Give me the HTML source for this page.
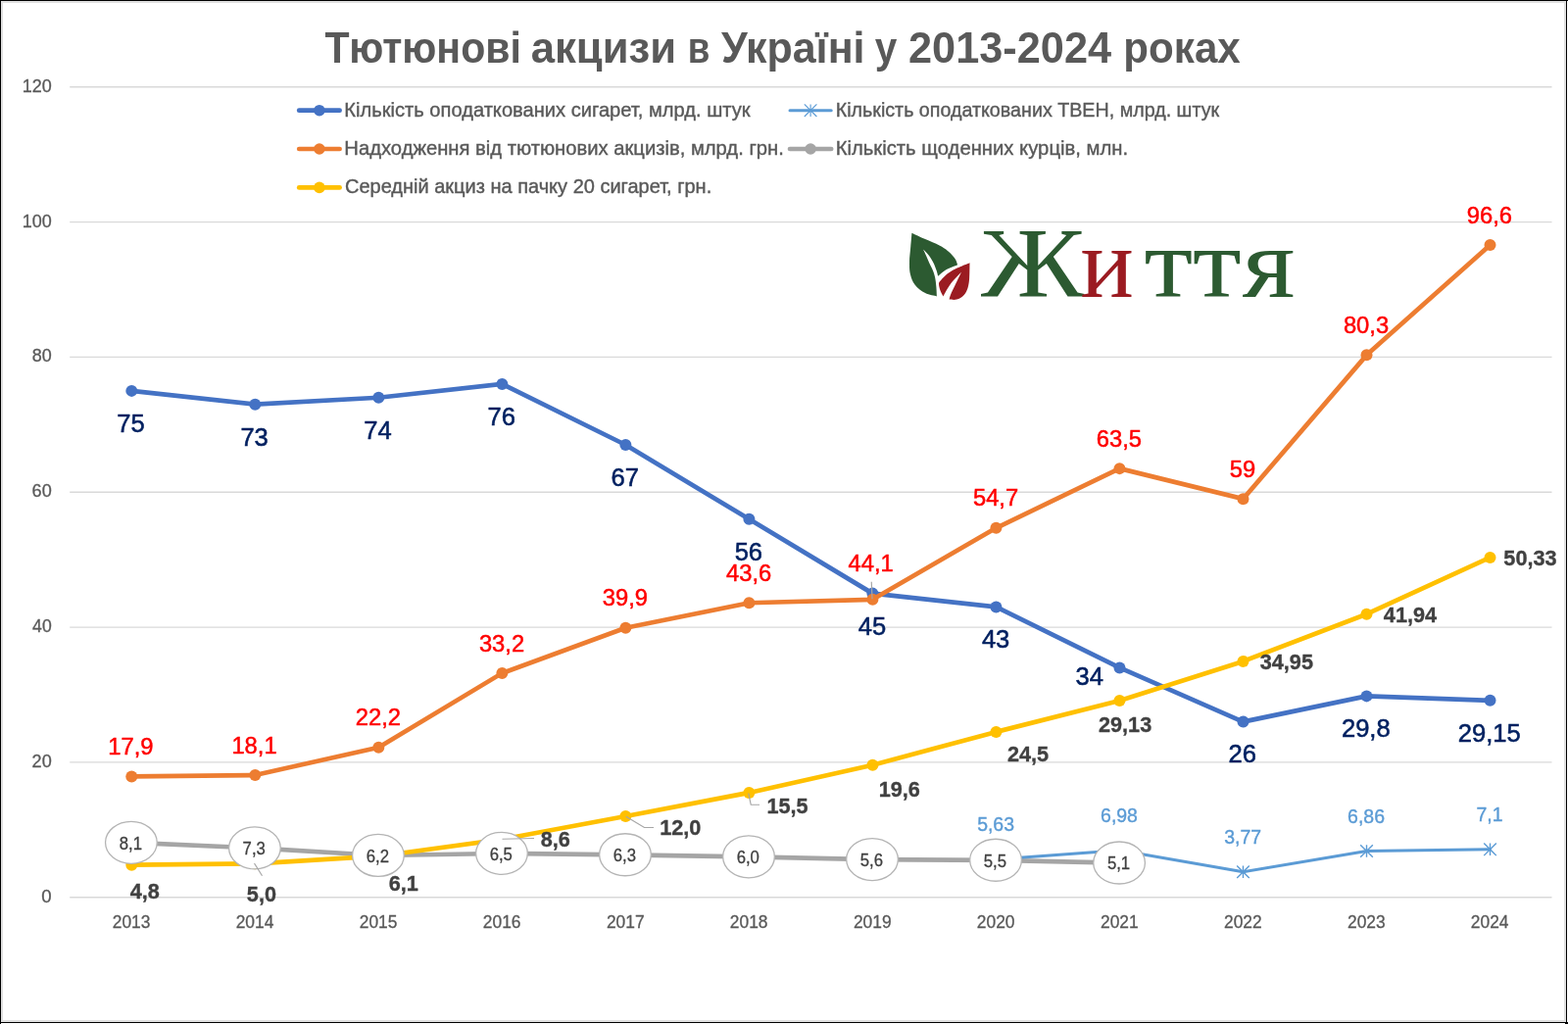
<!DOCTYPE html>
<html><head><meta charset="utf-8"><title>Chart</title>
<style>html,body{margin:0;padding:0;background:#fff;}body{width:1600px;height:1045px;overflow:hidden;font-family:"Liberation Sans",sans-serif;}svg{display:block;will-change:transform;}</style>
</head><body>
<svg width="1600" height="1045" viewBox="0 0 1600 1045" font-family="Liberation Sans, sans-serif">
<rect x="0" y="0" width="1600" height="1045" fill="#fff"/>
<line x1="71.2" x2="1583.5" y1="915.75" y2="915.75" stroke="#D9D9D9" stroke-width="1.3"/>
<line x1="71.2" x2="1583.5" y1="777.92" y2="777.92" stroke="#D9D9D9" stroke-width="1.3"/>
<line x1="71.2" x2="1583.5" y1="640.08" y2="640.08" stroke="#D9D9D9" stroke-width="1.3"/>
<line x1="71.2" x2="1583.5" y1="502.25" y2="502.25" stroke="#D9D9D9" stroke-width="1.3"/>
<line x1="71.2" x2="1583.5" y1="364.42" y2="364.42" stroke="#D9D9D9" stroke-width="1.3"/>
<line x1="71.2" x2="1583.5" y1="226.58" y2="226.58" stroke="#D9D9D9" stroke-width="1.3"/>
<line x1="71.2" x2="1583.5" y1="88.75" y2="88.75" stroke="#D9D9D9" stroke-width="1.3"/>
<text transform="translate(42.35,920.80) scale(1.0527,1)" font-size="17.71" fill="#595959" stroke="#595959" stroke-width="0.3">0</text>
<text transform="translate(32.60,782.97) scale(1.0218,1)" font-size="17.71" fill="#595959" stroke="#595959" stroke-width="0.3">20</text>
<text transform="translate(33.10,645.13) scale(0.9951,1)" font-size="17.71" fill="#595959" stroke="#595959" stroke-width="0.3">40</text>
<text transform="translate(32.60,507.30) scale(1.0218,1)" font-size="17.71" fill="#595959" stroke="#595959" stroke-width="0.3">60</text>
<text transform="translate(32.74,369.47) scale(1.0144,1)" font-size="17.71" fill="#595959" stroke="#595959" stroke-width="0.3">80</text>
<text transform="translate(22.65,231.63) scale(1.0170,1)" font-size="17.71" fill="#595959" stroke="#595959" stroke-width="0.3">100</text>
<text transform="translate(22.65,93.80) scale(1.0170,1)" font-size="17.71" fill="#595959" stroke="#595959" stroke-width="0.3">120</text>
<text transform="translate(114.76,946.85) scale(0.9780,1)" font-size="17.78" fill="#595959" stroke="#595959" stroke-width="0.3">2013</text>
<text transform="translate(240.65,946.85) scale(0.9780,1)" font-size="17.78" fill="#595959" stroke="#595959" stroke-width="0.3">2014</text>
<text transform="translate(366.78,946.85) scale(0.9780,1)" font-size="17.78" fill="#595959" stroke="#595959" stroke-width="0.3">2015</text>
<text transform="translate(492.82,946.85) scale(0.9780,1)" font-size="17.78" fill="#595959" stroke="#595959" stroke-width="0.3">2016</text>
<text transform="translate(618.91,946.85) scale(0.9780,1)" font-size="17.78" fill="#595959" stroke="#595959" stroke-width="0.3">2017</text>
<text transform="translate(744.86,946.85) scale(0.9780,1)" font-size="17.78" fill="#595959" stroke="#595959" stroke-width="0.3">2018</text>
<text transform="translate(870.91,946.85) scale(0.9780,1)" font-size="17.78" fill="#595959" stroke="#595959" stroke-width="0.3">2019</text>
<text transform="translate(996.86,946.85) scale(0.9780,1)" font-size="17.78" fill="#595959" stroke="#595959" stroke-width="0.3">2020</text>
<text transform="translate(1122.97,946.85) scale(0.9780,1)" font-size="17.78" fill="#595959" stroke="#595959" stroke-width="0.3">2021</text>
<text transform="translate(1249.01,946.85) scale(0.9780,1)" font-size="17.78" fill="#595959" stroke="#595959" stroke-width="0.3">2022</text>
<text transform="translate(1374.96,946.85) scale(0.9780,1)" font-size="17.78" fill="#595959" stroke="#595959" stroke-width="0.3">2023</text>
<text transform="translate(1500.85,946.85) scale(0.9780,1)" font-size="17.78" fill="#595959" stroke="#595959" stroke-width="0.3">2024</text>
<text transform="translate(331.59,64.00) scale(0.9166,1)" font-size="44.80" fill="#595959" font-weight="700">Тютюнові</text>
<text transform="translate(541.69,64.00) scale(0.9748,1)" font-size="44.80" fill="#595959" font-weight="700">акцизи</text>
<text transform="translate(701.82,64.00) scale(0.8221,1)" font-size="44.80" fill="#595959" font-weight="700">в</text>
<text transform="translate(736.00,64.00) scale(0.9583,1)" font-size="44.80" fill="#595959" font-weight="700">Україні</text>
<text transform="translate(892.70,64.00) scale(0.9052,1)" font-size="44.80" fill="#595959" font-weight="700">у</text>
<text transform="translate(927.03,64.00) scale(0.9666,1)" font-size="44.80" fill="#595959" font-weight="700">2013-2024</text>
<text transform="translate(1146.36,64.00) scale(0.9406,1)" font-size="44.80" fill="#595959" font-weight="700">роках</text>
<polyline points="134.30,398.88 260.32,412.66 386.34,405.77 512.36,391.98 638.38,454.01 764.40,529.82 890.42,605.62 1016.44,619.41 1142.46,681.43 1268.48,736.57 1394.50,710.38 1520.52,714.86" fill="none" stroke="#4472C4" stroke-width="4.7" stroke-linejoin="round" stroke-linecap="round"/>
<circle cx="134.30" cy="398.88" r="6" fill="#4472C4"/>
<circle cx="260.32" cy="412.66" r="6" fill="#4472C4"/>
<circle cx="386.34" cy="405.77" r="6" fill="#4472C4"/>
<circle cx="512.36" cy="391.98" r="6" fill="#4472C4"/>
<circle cx="638.38" cy="454.01" r="6" fill="#4472C4"/>
<circle cx="764.40" cy="529.82" r="6" fill="#4472C4"/>
<circle cx="890.42" cy="605.62" r="6" fill="#4472C4"/>
<circle cx="1016.44" cy="619.41" r="6" fill="#4472C4"/>
<circle cx="1142.46" cy="681.43" r="6" fill="#4472C4"/>
<circle cx="1268.48" cy="736.57" r="6" fill="#4472C4"/>
<circle cx="1394.50" cy="710.38" r="6" fill="#4472C4"/>
<circle cx="1520.52" cy="714.86" r="6" fill="#4472C4"/>
<polyline points="134.30,792.39 260.32,791.01 386.34,762.75 512.36,686.95 638.38,640.77 764.40,615.27 890.42,611.83 1016.44,538.78 1142.46,478.13 1268.48,509.14 1394.50,362.35 1520.52,250.02" fill="none" stroke="#ED7D31" stroke-width="4.7" stroke-linejoin="round" stroke-linecap="round"/>
<circle cx="134.30" cy="792.39" r="6" fill="#ED7D31"/>
<circle cx="260.32" cy="791.01" r="6" fill="#ED7D31"/>
<circle cx="386.34" cy="762.75" r="6" fill="#ED7D31"/>
<circle cx="512.36" cy="686.95" r="6" fill="#ED7D31"/>
<circle cx="638.38" cy="640.77" r="6" fill="#ED7D31"/>
<circle cx="764.40" cy="615.27" r="6" fill="#ED7D31"/>
<circle cx="890.42" cy="611.83" r="6" fill="#ED7D31"/>
<circle cx="1016.44" cy="538.78" r="6" fill="#ED7D31"/>
<circle cx="1142.46" cy="478.13" r="6" fill="#ED7D31"/>
<circle cx="1268.48" cy="509.14" r="6" fill="#ED7D31"/>
<circle cx="1394.50" cy="362.35" r="6" fill="#ED7D31"/>
<circle cx="1520.52" cy="250.02" r="6" fill="#ED7D31"/>
<polyline points="134.30,859.93 260.32,865.44 386.34,873.02 512.36,870.95 638.38,872.33 764.40,874.40 890.42,877.16 1016.44,877.85 1142.46,880.60" fill="none" stroke="#A5A5A5" stroke-width="4.7" stroke-linejoin="round" stroke-linecap="round"/>
<circle cx="134.30" cy="859.93" r="6" fill="#A5A5A5"/>
<circle cx="260.32" cy="865.44" r="6" fill="#A5A5A5"/>
<circle cx="386.34" cy="873.02" r="6" fill="#A5A5A5"/>
<circle cx="512.36" cy="870.95" r="6" fill="#A5A5A5"/>
<circle cx="638.38" cy="872.33" r="6" fill="#A5A5A5"/>
<circle cx="764.40" cy="874.40" r="6" fill="#A5A5A5"/>
<circle cx="890.42" cy="877.16" r="6" fill="#A5A5A5"/>
<circle cx="1016.44" cy="877.85" r="6" fill="#A5A5A5"/>
<circle cx="1142.46" cy="880.60" r="6" fill="#A5A5A5"/>
<polyline points="134.30,882.67 260.32,881.29 386.34,873.71 512.36,856.48 638.38,833.05 764.40,808.93 890.42,780.67 1016.44,746.90 1142.46,715.00 1268.48,674.89 1394.50,626.71 1520.52,568.89" fill="none" stroke="#FFC000" stroke-width="4.7" stroke-linejoin="round" stroke-linecap="round"/>
<circle cx="134.30" cy="882.67" r="6" fill="#FFC000"/>
<circle cx="260.32" cy="881.29" r="6" fill="#FFC000"/>
<circle cx="386.34" cy="873.71" r="6" fill="#FFC000"/>
<circle cx="512.36" cy="856.48" r="6" fill="#FFC000"/>
<circle cx="638.38" cy="833.05" r="6" fill="#FFC000"/>
<circle cx="764.40" cy="808.93" r="6" fill="#FFC000"/>
<circle cx="890.42" cy="780.67" r="6" fill="#FFC000"/>
<circle cx="1016.44" cy="746.90" r="6" fill="#FFC000"/>
<circle cx="1142.46" cy="715.00" r="6" fill="#FFC000"/>
<circle cx="1268.48" cy="674.89" r="6" fill="#FFC000"/>
<circle cx="1394.50" cy="626.71" r="6" fill="#FFC000"/>
<circle cx="1520.52" cy="568.89" r="6" fill="#FFC000"/>
<polyline points="1016.44,876.95 1142.46,867.65 1268.48,889.77 1394.50,868.47 1520.52,866.82" fill="none" stroke="#5B9BD5" stroke-width="3.0" stroke-linejoin="round" stroke-linecap="round"/>
<path d="M1010.14,870.65L1022.74,883.25M1010.14,883.25L1022.74,870.65M1016.44,870.65L1016.44,883.25" stroke="#5B9BD5" stroke-width="1.4" fill="none"/>
<path d="M1136.16,861.35L1148.76,873.95M1136.16,873.95L1148.76,861.35M1142.46,861.35L1142.46,873.95" stroke="#5B9BD5" stroke-width="1.4" fill="none"/>
<path d="M1262.18,883.47L1274.78,896.07M1262.18,896.07L1274.78,883.47M1268.48,883.47L1268.48,896.07" stroke="#5B9BD5" stroke-width="1.4" fill="none"/>
<path d="M1388.20,862.17L1400.80,874.77M1388.20,874.77L1400.80,862.17M1394.50,862.17L1394.50,874.77" stroke="#5B9BD5" stroke-width="1.4" fill="none"/>
<path d="M1514.22,860.52L1526.82,873.12M1514.22,873.12L1526.82,860.52M1520.52,860.52L1520.52,873.12" stroke="#5B9BD5" stroke-width="1.4" fill="none"/>
<polyline points="889.25,593.75 890.00,611.25" fill="none" stroke="#A6A6A6" stroke-width="1.2"/>
<polyline points="638.75,833.25 657.50,844.50 667.00,844.50" fill="none" stroke="#A6A6A6" stroke-width="1.2"/>
<polyline points="763.75,809.50 766.25,821.25 775.00,821.25" fill="none" stroke="#A6A6A6" stroke-width="1.2"/>
<ellipse cx="133.90" cy="859.83" rx="26.35" ry="21.5" fill="#fff" stroke="#B4B4B4" stroke-width="1.3"/>
<text transform="translate(121.70,866.73) scale(0.9420,1)" font-size="17.78" fill="#404040" stroke="#404040" stroke-width="0.3">8,1</text>
<ellipse cx="259.92" cy="865.34" rx="26.35" ry="21.5" fill="#fff" stroke="#B4B4B4" stroke-width="1.3"/>
<text transform="translate(247.60,872.24) scale(0.9420,1)" font-size="17.78" fill="#404040" stroke="#404040" stroke-width="0.3">7,3</text>
<ellipse cx="385.94" cy="872.92" rx="26.35" ry="21.5" fill="#fff" stroke="#B4B4B4" stroke-width="1.3"/>
<text transform="translate(373.70,879.82) scale(0.9420,1)" font-size="17.78" fill="#404040" stroke="#404040" stroke-width="0.3">6,2</text>
<ellipse cx="511.96" cy="870.85" rx="26.35" ry="21.5" fill="#fff" stroke="#B4B4B4" stroke-width="1.3"/>
<text transform="translate(499.64,877.75) scale(0.9420,1)" font-size="17.78" fill="#404040" stroke="#404040" stroke-width="0.3">6,5</text>
<ellipse cx="637.98" cy="872.23" rx="26.35" ry="21.5" fill="#fff" stroke="#B4B4B4" stroke-width="1.3"/>
<text transform="translate(625.68,879.13) scale(0.9420,1)" font-size="17.78" fill="#404040" stroke="#404040" stroke-width="0.3">6,3</text>
<ellipse cx="764.00" cy="874.30" rx="26.35" ry="21.5" fill="#fff" stroke="#B4B4B4" stroke-width="1.3"/>
<text transform="translate(751.66,881.20) scale(0.9420,1)" font-size="17.78" fill="#404040" stroke="#404040" stroke-width="0.3">6,0</text>
<ellipse cx="890.02" cy="877.06" rx="26.35" ry="21.5" fill="#fff" stroke="#B4B4B4" stroke-width="1.3"/>
<text transform="translate(877.80,883.96) scale(0.9420,1)" font-size="17.78" fill="#404040" stroke="#404040" stroke-width="0.3">5,6</text>
<ellipse cx="1016.04" cy="877.75" rx="26.35" ry="21.5" fill="#fff" stroke="#B4B4B4" stroke-width="1.3"/>
<text transform="translate(1003.80,884.65) scale(0.9420,1)" font-size="17.78" fill="#404040" stroke="#404040" stroke-width="0.3">5,5</text>
<ellipse cx="1142.06" cy="880.50" rx="26.35" ry="21.5" fill="#fff" stroke="#B4B4B4" stroke-width="1.3"/>
<text transform="translate(1129.88,887.40) scale(0.9420,1)" font-size="17.78" fill="#404040" stroke="#404040" stroke-width="0.3">5,1</text>
<polyline points="259.50,881.00 267.50,893.75" fill="none" stroke="#A6A6A6" stroke-width="1.2"/>
<polyline points="512.50,856.25 545.00,855.50" fill="none" stroke="#A6A6A6" stroke-width="1.2"/>
<text transform="translate(119.34,440.77) scale(0.9620,1)" font-size="26.59" fill="#002060" stroke="#002060" stroke-width="0.55">75</text>
<text transform="translate(245.39,454.56) scale(0.9620,1)" font-size="26.59" fill="#002060" stroke="#002060" stroke-width="0.55">73</text>
<text transform="translate(371.22,447.67) scale(0.9620,1)" font-size="26.59" fill="#002060" stroke="#002060" stroke-width="0.55">74</text>
<text transform="translate(497.43,433.88) scale(0.9620,1)" font-size="26.59" fill="#002060" stroke="#002060" stroke-width="0.55">76</text>
<text transform="translate(623.58,495.91) scale(0.9620,1)" font-size="26.59" fill="#002060" stroke="#002060" stroke-width="0.55">67</text>
<text transform="translate(749.63,571.72) scale(0.9620,1)" font-size="26.59" fill="#002060" stroke="#002060" stroke-width="0.55">56</text>
<text transform="translate(875.84,647.52) scale(0.9620,1)" font-size="26.59" fill="#002060" stroke="#002060" stroke-width="0.55">45</text>
<text transform="translate(1001.90,661.31) scale(0.9620,1)" font-size="26.59" fill="#002060" stroke="#002060" stroke-width="0.55">43</text>
<text transform="translate(1097.42,699.20) scale(0.9620,1)" font-size="26.59" fill="#002060" stroke="#002060" stroke-width="0.55">34</text>
<text transform="translate(1253.58,778.47) scale(0.9620,1)" font-size="26.59" fill="#002060" stroke="#002060" stroke-width="0.55">26</text>
<text transform="translate(1368.92,752.28) scale(0.9620,1)" font-size="26.59" fill="#002060" stroke="#002060" stroke-width="0.55">29,8</text>
<text transform="translate(1487.78,756.76) scale(0.9620,1)" font-size="26.59" fill="#002060" stroke="#002060" stroke-width="0.55">29,15</text>
<text transform="translate(110.34,770.04) scale(0.9580,1)" font-size="24.80" fill="#FF0000" stroke="#FF0000" stroke-width="0.5">17,9</text>
<text transform="translate(236.39,768.66) scale(0.9580,1)" font-size="24.80" fill="#FF0000" stroke="#FF0000" stroke-width="0.5">18,1</text>
<text transform="translate(362.73,740.40) scale(0.9580,1)" font-size="24.80" fill="#FF0000" stroke="#FF0000" stroke-width="0.5">22,2</text>
<text transform="translate(488.90,664.60) scale(0.9580,1)" font-size="24.80" fill="#FF0000" stroke="#FF0000" stroke-width="0.5">33,2</text>
<text transform="translate(614.86,618.42) scale(0.9580,1)" font-size="24.80" fill="#FF0000" stroke="#FF0000" stroke-width="0.5">39,9</text>
<text transform="translate(741.03,592.92) scale(0.9580,1)" font-size="24.80" fill="#FF0000" stroke="#FF0000" stroke-width="0.5">43,6</text>
<text transform="translate(865.59,583.20) scale(0.9580,1)" font-size="24.80" fill="#FF0000" stroke="#FF0000" stroke-width="0.5">44,1</text>
<text transform="translate(992.95,516.43) scale(0.9580,1)" font-size="24.80" fill="#FF0000" stroke="#FF0000" stroke-width="0.5">54,7</text>
<text transform="translate(1118.73,455.78) scale(0.9580,1)" font-size="24.80" fill="#FF0000" stroke="#FF0000" stroke-width="0.5">63,5</text>
<text transform="translate(1254.85,486.79) scale(0.9580,1)" font-size="24.80" fill="#FF0000" stroke="#FF0000" stroke-width="0.5">59</text>
<text transform="translate(1370.89,340.00) scale(0.9580,1)" font-size="24.80" fill="#FF0000" stroke="#FF0000" stroke-width="0.5">80,3</text>
<text transform="translate(1496.85,227.67) scale(0.9580,1)" font-size="24.80" fill="#FF0000" stroke="#FF0000" stroke-width="0.5">96,6</text>
<text transform="translate(132.67,917.30) scale(0.9850,1)" font-size="22.01" fill="#404040" font-weight="700" stroke="#404040" stroke-width="0.35">4,8</text>
<text transform="translate(251.85,920.30) scale(0.9850,1)" font-size="22.01" fill="#404040" font-weight="700" stroke="#404040" stroke-width="0.35">5,0</text>
<text transform="translate(396.69,909.05) scale(0.9850,1)" font-size="22.01" fill="#404040" font-weight="700" stroke="#404040" stroke-width="0.35">6,1</text>
<text transform="translate(551.80,864.05) scale(0.9850,1)" font-size="22.01" fill="#404040" font-weight="700" stroke="#404040" stroke-width="0.35">8,6</text>
<text transform="translate(673.15,852.30) scale(0.9850,1)" font-size="22.01" fill="#404040" font-weight="700" stroke="#404040" stroke-width="0.35">12,0</text>
<text transform="translate(782.40,829.80) scale(0.9850,1)" font-size="22.01" fill="#404040" font-weight="700" stroke="#404040" stroke-width="0.35">15,5</text>
<text transform="translate(896.65,813.30) scale(0.9850,1)" font-size="22.01" fill="#404040" font-weight="700" stroke="#404040" stroke-width="0.35">19,6</text>
<text transform="translate(1027.99,776.55) scale(0.9850,1)" font-size="22.01" fill="#404040" font-weight="700" stroke="#404040" stroke-width="0.35">24,5</text>
<text transform="translate(1120.99,747.30) scale(0.9850,1)" font-size="22.01" fill="#404040" font-weight="700" stroke="#404040" stroke-width="0.35">29,13</text>
<text transform="translate(1285.76,682.80) scale(0.9850,1)" font-size="22.01" fill="#404040" font-weight="700" stroke="#404040" stroke-width="0.35">34,95</text>
<text transform="translate(1411.87,635.30) scale(0.9850,1)" font-size="22.01" fill="#404040" font-weight="700" stroke="#404040" stroke-width="0.35">41,94</text>
<text transform="translate(1534.35,576.55) scale(0.9850,1)" font-size="22.01" fill="#404040" font-weight="700" stroke="#404040" stroke-width="0.35">50,33</text>
<text transform="translate(997.15,848.20) scale(0.9420,1)" font-size="20.65" fill="#5B9BD5" stroke="#5B9BD5" stroke-width="0.4">5,63</text>
<text transform="translate(1123.07,838.90) scale(0.9420,1)" font-size="20.65" fill="#5B9BD5" stroke="#5B9BD5" stroke-width="0.4">6,98</text>
<text transform="translate(1249.29,861.02) scale(0.9420,1)" font-size="20.65" fill="#5B9BD5" stroke="#5B9BD5" stroke-width="0.4">3,77</text>
<text transform="translate(1375.11,839.72) scale(0.9420,1)" font-size="20.65" fill="#5B9BD5" stroke="#5B9BD5" stroke-width="0.4">6,86</text>
<text transform="translate(1506.56,838.07) scale(0.9420,1)" font-size="20.65" fill="#5B9BD5" stroke="#5B9BD5" stroke-width="0.4">7,1</text>
<line x1="305.2" x2="346.6" y1="112.7" y2="112.7" stroke="#4472C4" stroke-width="4.7" stroke-linecap="round"/>
<circle cx="325.9" cy="112.7" r="5.8" fill="#4472C4"/>
<text transform="translate(351.34,118.60) scale(0.9606,1)" font-size="20.95" fill="#595959" stroke="#595959" stroke-width="0.4">Кількість оподаткованих сигарет, млрд. штук</text>
<line x1="806.0" x2="848.2" y1="112.7" y2="112.7" stroke="#5B9BD5" stroke-width="3.0" stroke-linecap="round"/>
<path d="M820.80,106.40L833.40,119.00M820.80,119.00L833.40,106.40M827.10,106.40L827.10,119.00" stroke="#5B9BD5" stroke-width="1.1" fill="none"/>
<text transform="translate(852.68,118.60) scale(0.9402,1)" font-size="20.95" fill="#595959" stroke="#595959" stroke-width="0.4">Кількість оподаткованих ТВЕН, млрд. штук</text>
<line x1="305.2" x2="346.6" y1="152.0" y2="152.0" stroke="#ED7D31" stroke-width="4.7" stroke-linecap="round"/>
<circle cx="325.9" cy="152.0" r="5.8" fill="#ED7D31"/>
<text transform="translate(351.33,158.00) scale(0.9652,1)" font-size="20.95" fill="#595959" stroke="#595959" stroke-width="0.4">Надходження від тютюнових акцизів, млрд. грн.</text>
<line x1="806.0" x2="848.2" y1="152.0" y2="152.0" stroke="#A5A5A5" stroke-width="4.7" stroke-linecap="round"/>
<circle cx="827.1" cy="152.0" r="5.8" fill="#A5A5A5"/>
<text transform="translate(852.63,158.00) scale(0.9673,1)" font-size="20.95" fill="#595959" stroke="#595959" stroke-width="0.4">Кількість щоденних курців, млн.</text>
<line x1="305.2" x2="346.6" y1="191.4" y2="191.4" stroke="#FFC000" stroke-width="4.7" stroke-linecap="round"/>
<circle cx="325.9" cy="191.4" r="5.8" fill="#FFC000"/>
<text transform="translate(352.00,197.40) scale(0.9554,1)" font-size="20.95" fill="#595959" stroke="#595959" stroke-width="0.4">Середній акциз на пачку 20 сигарет, грн.</text>
<path d="M930.45,237.65L930.45,237.65C932.73,238.72 939.41,241.96 944.10,244.10C948.79,246.24 954.58,248.37 958.60,250.50C962.62,252.63 965.52,254.62 968.20,256.90C970.88,259.18 973.22,261.98 974.70,264.20C976.18,266.42 976.70,269.20 977.10,270.20L977.10,270.20C975.08,271.07 968.33,273.48 965.00,275.40C961.67,277.32 958.42,280.65 957.10,281.70L957.10,281.70C956.87,280.78 956.47,278.45 955.70,276.20C954.93,273.95 953.83,270.82 952.50,268.20C951.17,265.58 949.43,262.78 947.70,260.50C945.97,258.22 943.03,255.50 942.10,254.50L942.10,254.50C942.60,255.58 944.08,258.72 945.10,261.00C946.12,263.28 947.05,265.67 948.20,268.20C949.35,270.73 951.00,273.65 952.00,276.20C953.00,278.75 953.63,280.70 954.20,283.50C954.77,286.30 955.12,289.85 955.40,293.00C955.68,296.15 955.82,300.83 955.90,302.40L955.90,302.40C953.93,301.85 947.80,301.05 944.10,299.10C940.40,297.15 936.25,293.98 933.70,290.70C931.15,287.42 929.75,283.42 928.80,279.40C927.85,275.38 927.93,271.15 928.00,266.60C928.07,262.05 928.79,256.93 929.20,252.10C929.61,247.27 930.24,240.06 930.45,237.65Z" fill="#2C5A31"/>
<path d="M989.50,268.20L989.50,268.20C987.37,269.08 980.17,271.87 976.70,273.50C973.23,275.13 970.80,276.63 968.70,278.00C966.60,279.37 965.65,280.23 964.10,281.70C962.55,283.17 960.42,285.45 959.40,286.80C958.38,288.15 958.00,288.22 958.00,289.80C958.00,291.38 958.67,294.20 959.40,296.30C960.13,298.40 961.90,301.38 962.40,302.40L962.40,302.40C963.63,300.32 966.68,294.07 969.80,289.90C972.92,285.73 979.22,279.48 981.10,277.40L981.10,277.40C980.03,279.62 976.52,286.88 974.70,290.70C972.88,294.52 971.22,297.82 970.20,300.30C969.18,302.78 968.87,304.72 968.60,305.60L968.60,305.60C969.88,305.60 973.82,306.33 976.30,305.60C978.78,304.87 981.63,303.15 983.50,301.20C985.37,299.25 986.57,296.72 987.50,293.90C988.43,291.08 988.77,288.58 989.10,284.30C989.43,280.02 989.43,270.88 989.50,268.20Z" fill="#9B1B21"/>
<text x="1001" y="302.6" font-family="Liberation Serif, serif" font-size="101" fill="#2C5A31" textLength="105.5" lengthAdjust="spacingAndGlyphs">Ж</text>
<text x="1102.5" y="302.6" font-family="Liberation Serif, serif" font-size="101" fill="#9B1B21" textLength="54.4" lengthAdjust="spacingAndGlyphs">и</text>
<text x="1167.4" y="302.6" font-family="Liberation Serif, serif" font-size="101" fill="#2C5A31" textLength="99.3" lengthAdjust="spacingAndGlyphs">тт</text>
<text x="1267.8" y="302.6" font-family="Liberation Serif, serif" font-size="101" fill="#2C5A31" textLength="53.7" lengthAdjust="spacingAndGlyphs">я</text>
<rect x="0" y="0" width="1600" height="1" fill="#000"/>
<rect x="0" y="0" width="1" height="1045" fill="#000"/>
<rect x="1598" y="0" width="1" height="1045" fill="#000"/>
<rect x="0" y="1043" width="1599" height="1" fill="#000"/>
<rect x="1597" y="1043" width="3" height="2" fill="#000"/>
<path d="M1,2H1598M1597,1V1043M1,1042H1598M2,1V1043" stroke="#E0E0E0" stroke-width="2" fill="none"/>
</svg>
</body></html>
